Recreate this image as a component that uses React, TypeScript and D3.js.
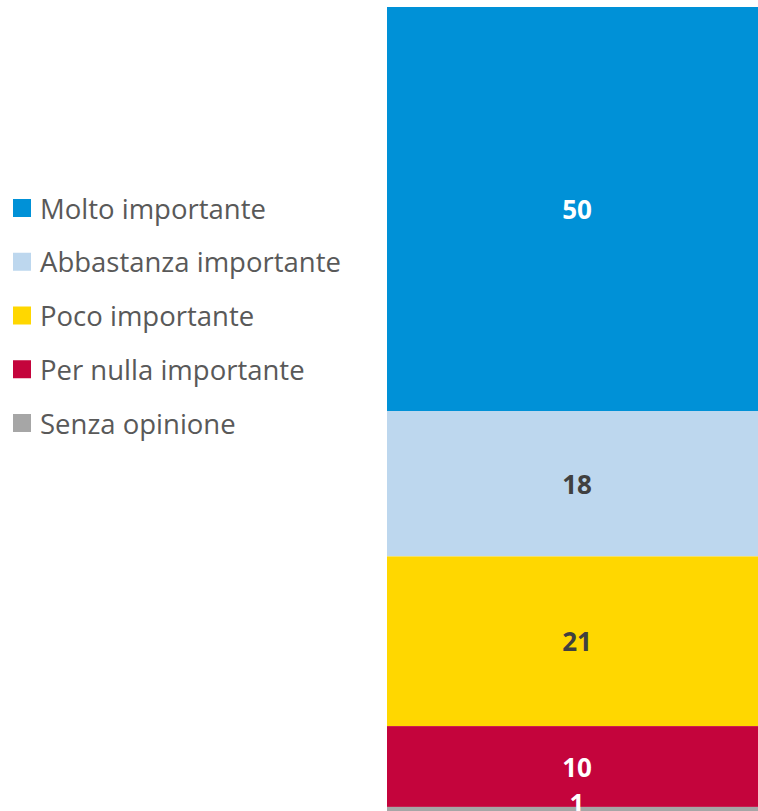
import React from 'react';
import * as d3 from 'd3';

// Response categories, top to bottom in the stack
const categories = [
  'Molto importante',
  'Abbastanza importante',
  'Poco importante',
  'Per nulla importante',
  'Senza opinione',
];
const values = [50, 18, 21, 10, 1];
const colors = ['#0091d7', '#bdd7ee', '#ffd700', '#c4043c', '#a6a6a6'];
const labelColors = ['#ffffff', '#404040', '#404040', '#ffffff', '#ffffff'];

const W = 758;
const H = 811;

const App: React.FC = () => {
  const total = d3.sum(values);
  // stack from the top down
  const y = d3.scaleLinear().domain([0, total]).range([7, 815]);
  const x = d3.scaleBand<string>().domain(['bar']).range([387, 767]);

  const starts = d3.cumsum([0, ...values]);
  const segments = values.map((v, i) => ({
    label: categories[i],
    value: v,
    y0: y(starts[i]),
    y1: y(starts[i] + v),
    color: colors[i],
    textColor: labelColors[i],
  }));

  const legendY = d3.scalePoint<string>().domain(categories).range([208, 423]);
  const font = '"Open Sans", "Liberation Sans", sans-serif';

  return (
    <svg
      width={W}
      height={H}
      style={{ position: 'absolute', left: 0, top: 0, background: '#ffffff' }}
    >
      <g className="bars">
        {segments.map(s => (
          <rect
            key={s.label}
            x={x('bar')}
            y={s.y0}
            width={x.bandwidth()}
            height={s.y1 - s.y0}
            fill={s.color}
          />
        ))}
      </g>
      <g className="values">
        {segments.map(s => (
          <text
            key={s.label}
            x={(x('bar') ?? 0) + x.bandwidth() / 2}
            y={s.value < 3 ? s.y0 - 4 : (s.y0 + s.y1) / 2}
            textAnchor="middle"
            dominantBaseline="central"
            fontFamily={font}
            fontWeight="bold"
            fontSize={26}
            fill={s.textColor}
          >
            {s.value}
          </text>
        ))}
      </g>
      <g className="legend">
        {categories.map((c, i) => (
          <g key={c} transform={`translate(13,${legendY(c)})`}>
            <rect x={0} y={-9} width={18} height={18} fill={colors[i]} />
            <text
              x={27}
              y={0}
              dominantBaseline="central"
              fontFamily={font}
              fontSize={27.5}
              fill="#595959"
            >
              {c}
            </text>
          </g>
        ))}
      </g>
    </svg>
  );
};

export default App;
